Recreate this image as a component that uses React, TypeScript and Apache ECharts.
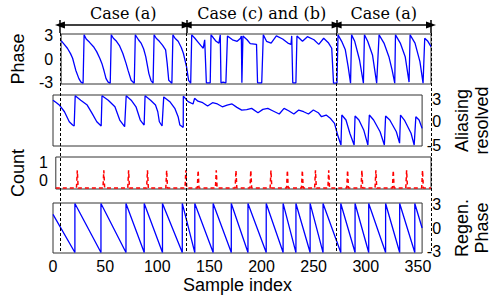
import React, { useEffect, useRef } from "react";
import * as echarts from "echarts";

const xMax = 354;
const xTicks = [0, 50, 100, 150, 200, 250, 300, 350];
const caseBounds = [6.5, 125.2, 265.6, 354];
const caseLabels = ["Case (a)", "Case (c) and (b)", "Case (a)"];

const phaseTicks = [-3, 0, 3];
const resolvedTicksLow = [-5, 0];
const resolvedTicksTop = [3];
const countTicks = [0, 1];
const regenTicks = [-3, 0, 3];

const phaseData: number[][] = [
  [0, 2.4], [3, 1.9], [6, 1.4], [9, 0.7], [11, 0.1], [14, -1.45], [17, -2.55], [19, -3.0], [21, -3.14],
  [22, 3.14], [24, 2.6], [27, 2.2], [31, 1.6], [34, 0.96], [37, 0.1], [39, -0.57], [41, -1.5], [43, -2.55], [45, -3.0], [47, -3.14],
  [48, 3.14], [50, 2.7], [53, 2.3], [56, 1.7], [59, 0.75], [62, -0.5], [64, -1.45], [67, -2.77], [70, -3.14],
  [71, 3.14], [74, 2.5], [76.5, 2.07], [79, 1.3], [81, 0.3], [84, -1.9], [86, -2.8], [88, -3.14],
  [89, 3.14], [91, 2.7], [94, 2.3], [97, 1.8], [100, 1.19], [101.5, -0.57], [103, -2.77], [106, -3.14],
  [107, 3.14], [109, 2.7], [112, 2.3], [115, 1.5], [117, 0.75], [120, -1.0], [122, -2.77], [124, -3.14],
  [125, 3.14], [128, 2.7], [131, 2.2], [134, 1.7], [136, 1.4], [137.4, 2.5], [139, -3.1], [142.7, -3.1],
  [143.5, 3.14], [146, 2.7], [148.3, 2.3], [151, 2.07], [152.3, 3.14], [153, -3.1], [155, -3.0], [157.7, -3.1],
  [159.2, 3.0], [164, 2.5], [168.5, 2.3], [171.7, 2.7], [172.5, 3.0], [173, -3.1], [174, 3.0], [178, 2.5],
  [181, 2.0], [187, 1.9], [188, -3.1], [192, -3.1], [193.5, 3.14], [196.6, 2.3], [201, 2.07], [206, 3.0],
  [212, 2.6], [217, 2.07], [220, 1.9], [220.7, 3.0], [221.7, -3.1], [224.7, -3.1], [225.7, 3.0], [231, 2.3],
  [235.7, 2.9], [242, 2.5], [246.6, 1.9], [251.3, 2.7], [256, 2.07], [259, 1.4], [260.7, -3.14], [264, -3.14],
  [265, 3.14], [268.5, 2.3], [272, 1.19], [274.7, -1.0], [277, -3.14],
  [278, 3.14], [281, 2.3], [285.6, -0.13], [289.3, -3.14],
  [290.3, 3.14], [293.4, 2.3], [298, 0.53], [302, -3.14],
  [304.3, 3.14], [309, 2.07], [313.7, 0.3], [316.8, -1.45], [319.3, -3.14],
  [320, 3.14], [324.6, 2.07], [329.3, 0.3], [333, -3.0],
  [334, 3.14], [338.7, 2.07], [343.4, -0.35], [346.4, -3.14],
  [348, 2.7], [351, 2.3], [354, 1.6],
];

const resolvedData: number[][] = [
  [0, 4.5], [3, 4.0], [6, 3.5], [11, 2.05], [15.6, -0.06], [18.8, -0.76], [20.3, -0.97],
  [21.3, 5.45], [26.6, 4.5], [32.8, 3.47], [37.5, 1.7], [42, -0.06], [46.2, -0.97],
  [47, 5.45], [53, 4.5], [59.4, 3.1], [64, 0.3], [68.7, -1.12],
  [70.2, 5.45], [75, 4.5], [79.6, 3.1], [83.7, 0.3], [87.4, -0.76],
  [88.3, 5.45], [93.6, 4.5], [98.3, 3.47], [100.5, 2.05], [102, -0.06], [104.6, -0.97],
  [106.2, 5.2], [112.4, 4.1], [117, 2.7], [120, 1.0], [121.7, -0.76], [124.9, -1.25],
  [125, 5.35], [129.6, 4.2], [134.3, 3.7], [135.8, 4.9], [139, 4.3], [143.6, 3.97], [148.3, 3.26],
  [153, 3.97], [157.7, 3.7], [162.4, 3.1], [167, 3.47], [171.7, 3.7], [176.4, 2.98], [181, 2.4],
  [185.8, 2.5], [190.5, 2.77], [196.6, 1.85], [201.3, 2.56], [206, 2.77], [210.6, 2.27], [217, 1.57],
  [221.6, 2.77], [226, 2.27], [231, 1.57], [235.7, 2.42], [240.4, 2.06], [245, 1.57], [249.7, 2.42],
  [254.4, 1.85], [257.5, 1.0], [262, 1.36], [265.3, 0.8], [267, 0.4], [270, -0.4], [273, -2.88], [276.2, -5.0],
  [277, 1.36], [281, 0.3], [284.7, -2.5], [288.8, -5.0],
  [289.7, 1.15], [293.4, 0.3], [298, -1.8], [302, -5.0],
  [303.4, 1.36], [307.5, 0.3], [313.7, -2.18], [317.8, -5.0],
  [319, 1.15], [323, 0.3], [329.3, -2.18], [332.4, -4.6],
  [333.3, 1.36], [337, 0.3], [343.4, -2.5], [346.4, -5.0],
  [348, 1.0], [351.1, 0.3], [354, -1.47],
];

const countSpikes = [20.3, 45.3, 68.7, 86.5, 104.6, 122.7, 134.3, 151.4, 170, 184, 203, 218.5, 232.6, 245, 257.5, 275.3, 288.8, 302, 318.4, 331, 346];
const countBase = 0;
const countPeak = 1;

const regenJumps = [21, 46, 70, 87.5, 105, 124, 136, 153.6, 171, 187, 204.5, 220.7, 233, 246.6, 259, 276, 289.7, 302.8, 319, 332.5, 347];
const regenStart = 1.74;
const regenEnd = 0;

const BLUE = "#0000ff";
const SANS = "Liberation Sans, Arial, sans-serif";

export default function App() {
  const ref = useRef<HTMLDivElement>(null);
  useEffect(() => {
    if (!ref.current) return;
    const chart = echarts.init(ref.current, null, { renderer: "svg" });

    const countData: number[][] = [[0, countBase]];
    countSpikes.forEach((s) => {
      countData.push([s - 0.8, countBase], [s, countPeak], [s + 0.8, countBase]);
    });
    countData.push([xMax, countBase]);

    const regenData: number[][] = [[0, regenStart]];
    regenJumps.forEach((j) => {
      regenData.push([j, -Math.PI], [j, Math.PI]);
    });
    regenData.push([xMax, regenEnd]);

    const panelTops = [34, 95, 157, 203];
    const panelHeights = [50, 51, 32, 50];
    const grids: any[] = panelTops.map((t, i) => ({
      left: 53, width: 378, top: t, height: panelHeights[i],
      show: true, borderColor: "#333", borderWidth: 1, backgroundColor: "transparent",
    }));
    grids.push({ left: 53, width: 378, top: 20, height: 233, show: false });

    const hiddenX = (i: number) => ({
      type: "value", gridIndex: i, min: 0, max: xMax,
      axisLine: { show: false }, axisTick: { show: false }, axisLabel: { show: false }, splitLine: { show: false },
    });
    const xAxes: any[] = [hiddenX(0), hiddenX(1), hiddenX(2), {
      type: "value", gridIndex: 3, min: 0, max: xMax,
      axisLine: { show: false }, axisTick: { show: false }, splitLine: { show: false },
      axisLabel: {
        customValues: xTicks, fontSize: 16, color: "#000", margin: 5, fontFamily: SANS,
        showMinLabel: true, showMaxLabel: true,
      },
      name: "Sample index", nameLocation: "middle", nameGap: 23,
      nameTextStyle: { fontSize: 18, color: "#000", fontFamily: SANS },
    }, hiddenX(4)];

    const yAx = (i: number, pos: string, min: number, max: number, ticks: number[], name: string, gap: number, vAlign?: string) => ({
      type: "value", gridIndex: i, position: pos, min, max,
      axisLine: { show: false }, axisTick: { show: false }, splitLine: { show: false },
      axisLabel: {
        customValues: ticks, fontSize: 16, color: "#000", fontFamily: SANS,
        margin: pos === "left" ? 8 : 19, align: "right",
        verticalAlign: vAlign || "middle",
        showMinLabel: true, showMaxLabel: true, hideOverlap: false,
      },
      name, nameLocation: "middle", nameGap: gap, nameRotate: 90,
      nameTextStyle: { fontSize: 18, color: "#000", fontFamily: SANS, lineHeight: 20 },
    });
    const yAxes: any[] = [
      yAx(0, "left", -3.25, 3.25, phaseTicks, "Phase", 23),
      yAx(1, "right", -5.2, 5.6, resolvedTicksLow, "Aliasing\nresolved", 22),
      yAx(2, "left", -0.05, 1.75, countTicks, "Count", 21, "bottom"),
      yAx(3, "right", -3.2, 3.2, regenTicks, "Regen.\nPhase", 21),
      { type: "value", gridIndex: 4, min: 0, max: 233, inverse: true, show: false },
      yAx(1, "right", -5.2, 5.6, resolvedTicksTop, "", 22, "bottom"),
    ];

    const solid = { color: "#000", width: 1.5, type: "solid" };
    const dashed = { color: "#000", width: 1, type: [3, 2] };
    const markData: any[] = [];
    caseBounds.forEach((x) => {
      markData.push([{ coord: [x, 13], lineStyle: dashed }, { coord: [x, 233], lineStyle: dashed }]);
      markData.push([{ coord: [x, 0], lineStyle: solid }, { coord: [x, 13], lineStyle: solid }]);
    });
    caseLabels.forEach((lab, i) => {
      const label = {
        show: true, position: "insideMiddleTop", formatter: lab, distance: 4,
        fontFamily: "DejaVu Serif, serif", fontSize: 16, color: "#000",
      };
      markData.push([
        { coord: [caseBounds[i], 5], symbol: "triangle", symbolSize: [7, 10], lineStyle: solid, label },
        { coord: [caseBounds[i + 1], 5], symbol: "triangle", symbolSize: [7, 10], lineStyle: solid, label },
      ]);
    });

    const lineSeries = (i: number, data: number[][], style: any) => ({
      type: "line", xAxisIndex: i, yAxisIndex: i, data, showSymbol: false, symbol: "none",
      lineStyle: style, silent: true,
    });

    chart.setOption({
      animation: false,
      textStyle: { fontFamily: SANS },
      grid: grids,
      xAxis: xAxes,
      yAxis: yAxes,
      series: [
        lineSeries(0, phaseData, { color: BLUE, width: 1.3 }),
        lineSeries(1, resolvedData, { color: BLUE, width: 1.3 }),
        lineSeries(2, countData, { color: "#ff0000", width: 1.5, type: [4, 3] }),
        lineSeries(3, regenData, { color: BLUE, width: 1.3 }),
        {
          type: "line", xAxisIndex: 4, yAxisIndex: 4, data: [], silent: true,
          markLine: {
            silent: true, animation: false, symbol: ["none", "none"],
            label: { show: false }, emphasis: { disabled: true },
            data: markData,
          },
        },
      ],
    });
    return () => chart.dispose();
  }, []);
  return <div ref={ref} style={{ position: "absolute", left: 0, top: 0, width: 500, height: 304 }} />;
}
